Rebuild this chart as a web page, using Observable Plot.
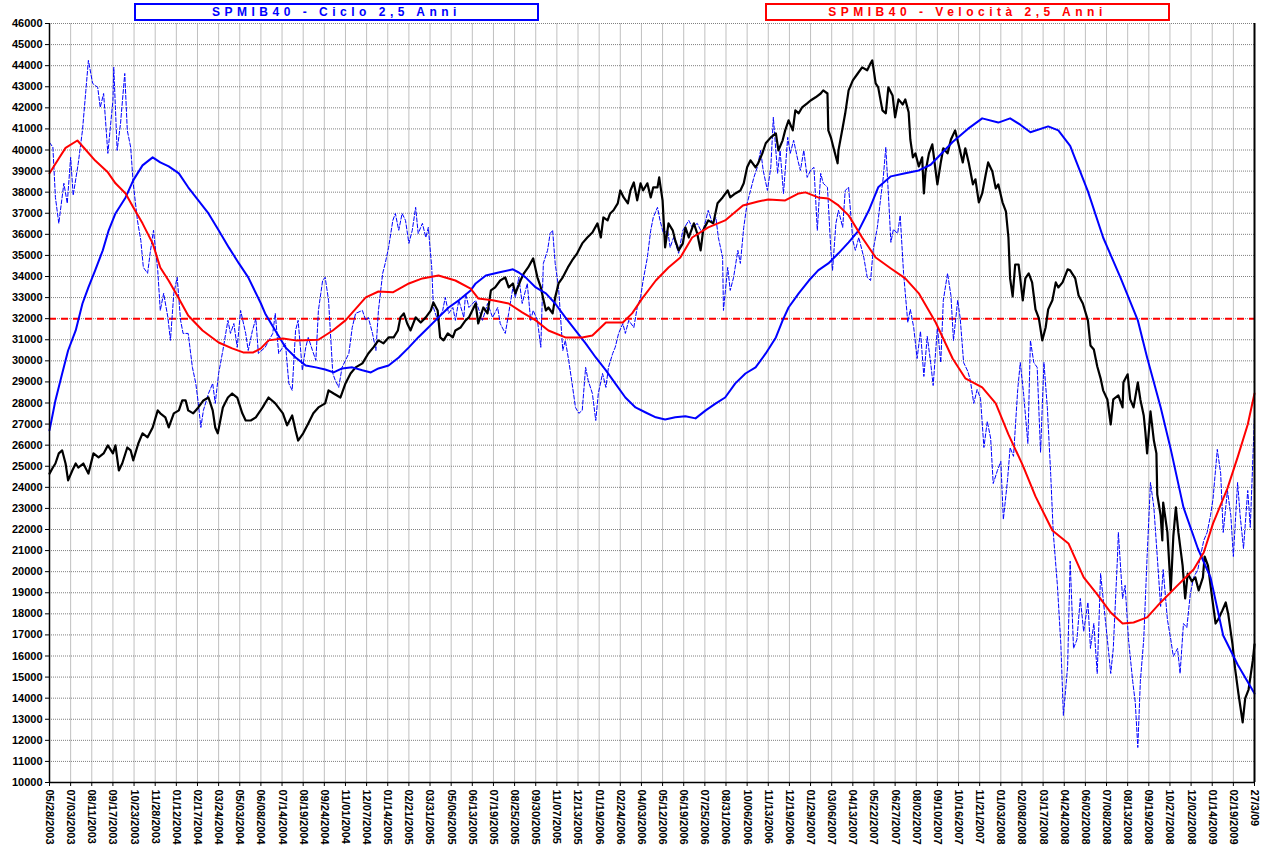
<!DOCTYPE html>
<html>
<head>
<meta charset="utf-8">
<script src="https://cdn.jsdelivr.net/npm/d3@7"></script>
<script src="https://cdn.jsdelivr.net/npm/@observablehq/plot@0.6"></script>
<style>
  body { margin: 0; background: #fff; }
  #wrap { position: relative; width: 1269px; height: 853px; }
  .leg { position: absolute; top: 3px; height: 14px; box-sizing: content-box; text-align: center;
         font-family: "Liberation Sans", Arial, sans-serif; font-weight: bold; font-size: 12px;
         line-height: 14px; letter-spacing: 4.5px; background: #fff; z-index: 2; white-space: pre; }
  #leg1 { left: 134px; width: 401px; border: 2px solid #0000ff; color: #0000ff; }
  #leg2 { left: 765px; width: 401px; border: 2px solid #ff0000; color: #ff0000; }
</style>
</head>
<body>
<div id="wrap">
  <div class="leg" id="leg1">SPMIB40 - Ciclo 2,5 Anni</div>
  <div class="leg" id="leg2">SPMIB40 - Velocità 2,5 Anni</div>
  <div id="chart"></div>
</div>
<script>
// x = trading session number since 05/28/2003 (one label every 25 sessions)
const xLabels = ["05/28/2003","07/03/2003","08/11/2003","09/17/2003","10/23/2003","11/28/2003",
"01/12/2004","02/17/2004","03/24/2004","05/03/2004","06/08/2004","07/14/2004","08/19/2004","09/24/2004","11/01/2004","12/07/2004",
"01/14/2005","02/21/2005","03/31/2005","05/06/2005","06/13/2005","07/19/2005","08/25/2005","09/30/2005","11/07/2005","12/13/2005",
"01/19/2006","02/24/2006","04/03/2006","05/12/2006","06/19/2006","07/25/2006","08/31/2006","10/06/2006","11/13/2006","12/19/2006",
"01/29/2007","03/06/2007","04/13/2007","05/22/2007","06/27/2007","08/02/2007","09/10/2007","10/16/2007","11/21/2007",
"01/03/2008","02/08/2008","03/17/2008","04/24/2008","06/02/2008","07/08/2008","08/13/2008","09/19/2008","10/27/2008","12/02/2008",
"01/14/2009","02/19/2009","27/3/09"];
const tickDays = xLabels.map((_, i) => i * 25);
const yTicks = d3.range(10000, 46001, 1000);
const soglia = [32000];

// SPMIB40 price
const prezzo = [[0,24650],[4,24940],[7,25130],[11,25610],[15,25750],[19,25130],[22,24330],[27,24800],[31,25130],[34,24940],[40,25130],[46,24650],[52,25610],[58,25420],[64,25610],[69,25990],[75,25610],[78,25990],[82,24800],[86,25130],[92,25890],[96,25750],[99,25280],[105,26080],[110,26560],[116,26370],[122,26840],[128,27650],[131,27510],[137,27320],[141,26840],[147,27510],[153,27650],[157,28120],[161,28120],[164,27650],[170,27510],[176,27790],[182,28120],[188,28260],[193,27650],[196,26840],[199,26560],[205,27790],[211,28260],[216,28450],[222,28260],[228,27510],[232,27170],[238,27170],[244,27320],[252,27790],[259,28260],[267,27980],[276,27510],[281,26940],[287,27410],[291,26700],[294,26220],[300,26560],[306,27030],[312,27510],[318,27790],[326,27980],[330,28600],[336,28450],[344,28260],[350,28930],[356,29400],[362,29690],[370,29880],[377,30350],[383,30640],[389,30970],[395,30830],[401,31110],[407,31110],[412,31440],[415,32060],[419,32250],[423,31770],[427,31440],[433,32060],[439,31820],[445,32060],[451,32390],[454,32770],[459,32390],[462,31110],[466,30970],[471,31300],[477,31110],[480,31440],[486,31580],[492,31920],[496,32060],[500,32390],[504,32720],[507,31770],[513,32530],[518,32250],[522,33340],[527,33480],[533,33810],[539,33960],[543,33480],[548,33670],[551,33200],[557,33810],[561,34150],[566,34430],[572,34860],[577,33960],[581,33480],[587,32390],[590,32530],[595,32250],[598,33010],[602,33670],[607,33960],[613,34430],[618,34760],[624,35100],[630,35570],[636,35850],[642,36090],[648,36520],[652,35850],[655,36800],[660,36660],[663,36990],[667,37140],[672,37470],[675,38080],[679,37750],[684,37470],[687,38080],[691,38460],[695,37610],[699,38420],[702,38080],[707,38420],[711,37750],[714,38230],[719,38230],[721,38700],[725,37610],[728,35380],[732,36520],[737,36190],[740,35710],[744,35240],[749,35570],[752,36330],[756,35850],[762,36520],[766,36040],[770,35240],[773,36190],[779,36660],[785,36520],[790,37470],[796,37750],[802,38080],[805,37750],[811,37940],[817,38080],[821,38420],[825,39180],[829,39510],[835,39180],[838,39370],[843,39840],[847,40320],[853,40600],[859,40790],[862,39980],[867,40460],[870,40930],[874,41410],[879,40930],[882,41880],[886,41740],[890,42020],[896,42210],[900,42350],[906,42500],[912,42680],[915,42830],[920,42680],[921,40930],[924,40600],[927,40130],[932,39370],[933,39980],[938,41070],[941,41740],[945,42830],[950,43300],[956,43640],[961,43920],[967,43780],[971,44110],[973,44250],[977,43160],[980,42970],[985,41880],[989,41740],[992,42970],[997,42590],[1000,41550],[1004,42400],[1009,42160],[1012,42400],[1016,41790],[1018,40500],[1021,39650],[1024,39840],[1028,39220],[1032,39650],[1034,37940],[1036,38980],[1040,39840],[1044,40270],[1048,38980],[1050,38370],[1054,39410],[1057,40080],[1062,39840],[1066,40500],[1071,40930],[1075,40270],[1080,39410],[1083,40080],[1087,39410],[1092,38370],[1095,38610],[1099,37520],[1103,37940],[1107,38800],[1110,39410],[1115,38980],[1119,38180],[1122,38370],[1127,37520],[1131,37090],[1134,35850],[1136,33910],[1139,33060],[1142,34570],[1146,34570],[1151,32870],[1154,33910],[1158,34150],[1162,33720],[1166,32440],[1170,32010],[1174,30970],[1178,31580],[1181,32440],[1186,32870],[1190,33720],[1193,33480],[1198,33720],[1204,34340],[1207,34290],[1213,33910],[1217,33100],[1222,32720],[1228,31920],[1231,30730],[1235,30540],[1239,29740],[1243,29170],[1246,28600],[1251,28170],[1255,26980],[1258,28170],[1264,28360],[1269,27790],[1270,28980],[1275,29360],[1278,28170],[1282,27790],[1287,28980],[1290,28170],[1294,27410],[1296,26600],[1298,25610],[1302,27600],[1306,26220],[1309,25610],[1310,23660],[1314,22670],[1316,21480],[1317,23280],[1322,21860],[1326,19110],[1329,21670],[1332,23050],[1335,21860],[1340,20290],[1343,18730],[1346,19910],[1351,19540],[1355,19730],[1359,19110],[1364,19730],[1366,20720],[1370,20290],[1375,18730],[1379,17540],[1382,17730],[1387,18160],[1391,18540],[1394,17970],[1399,16550],[1402,15410],[1406,14220],[1411,12850],[1414,13990],[1418,14410],[1423,15790],[1425,16550]];

// blue dashed series
const oscillazione = [[0,40360],[4,40130],[7,37750],[11,36520],[17,38420],[21,37470],[25,39650],[28,37850],[34,39370],[39,40930],[43,42830],[46,44250],[51,43160],[57,42970],[60,42020],[64,42680],[69,39840],[75,42350],[76,43920],[80,39980],[84,41260],[89,43630],[92,40930],[96,40130],[99,38420],[104,36660],[108,35710],[111,34430],[116,34150],[119,35100],[123,36190],[128,34290],[131,32390],[135,33200],[140,32060],[143,30970],[147,33200],[151,33960],[155,31920],[158,31300],[164,31300],[169,29690],[173,28930],[176,27980],[179,26840],[182,27650],[188,28450],[193,28930],[196,27980],[200,29400],[205,30490],[211,31920],[214,31300],[218,31770],[222,30640],[226,32390],[232,31300],[235,30490],[240,31440],[244,32000],[247,30350],[255,30640],[264,31300],[267,32250],[271,30350],[279,30830],[283,28930],[287,28600],[291,31440],[294,31920],[299,29550],[303,30640],[306,31110],[311,30490],[315,30020],[318,32390],[323,33810],[326,33960],[330,32870],[335,29400],[338,29070],[342,28740],[346,29690],[354,30350],[358,31580],[362,32250],[370,32390],[374,31920],[377,32060],[382,31300],[386,30490],[389,32390],[394,34150],[397,34620],[401,35380],[406,36660],[409,36990],[413,36190],[417,36990],[421,36660],[425,35570],[429,36190],[433,37280],[436,36040],[441,36520],[445,35850],[448,36330],[452,34430],[454,32530],[459,31920],[465,32390],[468,33010],[472,32250],[477,32530],[480,31920],[484,32870],[490,32060],[492,33200],[496,32530],[504,32870],[512,31920],[518,32720],[524,32060],[530,32530],[533,31770],[539,31300],[543,32250],[548,33480],[551,33010],[555,33960],[559,32720],[565,33670],[569,31920],[572,32390],[577,31920],[581,30640],[584,34620],[589,35240],[592,36040],[595,36190],[598,34620],[602,33480],[607,30490],[610,30970],[614,30020],[618,28930],[622,27790],[626,27510],[630,27650],[634,29690],[637,29070],[642,28450],[646,27170],[649,28450],[654,29400],[658,28740],[661,29690],[666,30350],[669,30640],[673,31300],[678,31770],[681,31300],[685,31920],[691,31580],[695,32530],[699,33010],[702,33810],[707,34900],[711,36190],[714,36800],[719,37280],[722,36660],[726,36040],[731,36190],[734,35380],[738,35850],[744,35100],[749,36190],[756,36660],[760,36330],[766,36520],[772,36040],[776,36660],[779,37140],[784,36520],[788,36800],[791,35850],[796,34900],[797,32390],[802,34430],[805,33340],[809,33960],[814,35240],[817,34620],[821,36330],[825,37470],[829,38080],[833,38700],[837,39180],[841,39980],[844,39030],[849,38080],[853,39180],[856,41550],[861,38890],[864,39980],[868,37940],[873,40600],[876,39840],[880,40460],[885,39510],[888,39030],[892,39980],[896,38700],[900,39030],[904,39180],[908,36190],[912,38890],[915,38420],[920,38230],[924,35240],[926,34290],[930,36520],[933,37140],[938,36330],[941,38080],[945,38230],[950,35710],[953,35240],[957,35850],[963,34900],[967,33960],[971,33810],[974,35240],[979,36330],[983,37750],[986,38700],[989,40130],[992,37940],[995,35620],[998,36240],[1003,36040],[1006,36900],[1010,34150],[1015,31820],[1018,32440],[1022,31580],[1026,30110],[1030,31400],[1034,29260],[1038,31160],[1042,29920],[1045,28830],[1050,31580],[1054,29920],[1057,32870],[1062,34150],[1066,33100],[1069,30970],[1074,32870],[1077,32010],[1081,29920],[1086,29500],[1089,29070],[1093,27980],[1097,28640],[1101,28220],[1105,25890],[1109,27130],[1113,26320],[1116,24180],[1121,24800],[1125,25230],[1128,22480],[1133,24370],[1136,25890],[1140,25470],[1145,28640],[1148,29920],[1152,28410],[1157,26080],[1160,30970],[1164,29920],[1168,29690],[1172,25660],[1176,29920],[1180,27790],[1184,24610],[1187,21860],[1192,19300],[1196,16550],[1199,13180],[1204,15500],[1207,20500],[1211,16360],[1215,16780],[1219,18730],[1223,17160],[1228,18540],[1231,16360],[1235,17540],[1239,15170],[1243,19910],[1246,18730],[1251,16780],[1255,15170],[1258,16360],[1263,20720],[1264,21860],[1269,18730],[1272,19350],[1276,16780],[1281,14790],[1284,13800],[1287,11660],[1290,14790],[1294,16780],[1298,20720],[1302,24230],[1306,23050],[1310,20720],[1314,18350],[1317,20100],[1322,17730],[1326,16780],[1329,15980],[1334,16360],[1337,15170],[1341,17540],[1345,17350],[1349,18920],[1353,19730],[1358,20100],[1361,20720],[1365,21480],[1369,21860],[1373,22670],[1376,23470],[1381,25800],[1385,24660],[1388,21860],[1393,23850],[1397,22670],[1400,20720],[1405,24230],[1408,22670],[1412,21100],[1417,23850],[1420,22100],[1425,27410]];

// SPMIB40 - Ciclo 2,5 Anni
const ciclo = [[0,26700],[7,28120],[15,29400],[22,30490],[31,31440],[39,32720],[46,33480],[54,34290],[63,35240],[70,36190],[78,36990],[90,37750],[99,38560],[110,39270],[122,39650],[131,39410],[141,39220],[153,38890],[164,38230],[176,37610],[188,36990],[200,36190],[212,35380],[224,34620],[235,33960],[250,32720],[255,32250],[267,31440],[279,30640],[291,30160],[303,29780],[315,29690],[326,29590],[336,29450],[346,29640],[358,29690],[370,29550],[380,29450],[389,29640],[401,29780],[413,30160],[425,30640],[436,31110],[448,31580],[460,32060],[472,32530],[484,32870],[498,33340],[504,33670],[516,34050],[531,34190],[548,34340],[555,34190],[563,33960],[575,33480],[587,33200],[598,32720],[610,32060],[622,31440],[634,30830],[646,30160],[658,29550],[669,28930],[681,28260],[693,27790],[705,27550],[717,27320],[728,27220],[740,27320],[752,27370],[764,27270],[776,27650],[788,27980],[799,28260],[811,28930],[823,29400],[835,29690],[847,30350],[859,31110],[867,31920],[874,32530],[886,33200],[898,33810],[909,34290],[921,34620],[933,35100],[945,35620],[957,36190],[969,37140],[980,38230],[995,38750],[1012,38900],[1028,39030],[1042,39300],[1068,40380],[1086,41000],[1103,41500],[1122,41300],[1136,41500],[1148,41200],[1160,40840],[1181,41120],[1193,40930],[1207,40200],[1228,38040],[1246,35850],[1267,33900],[1287,31920],[1298,30160],[1314,27800],[1326,25800],[1341,23050],[1358,21100],[1373,19730],[1388,16970],[1405,15600],[1425,14220]];

// SPMIB40 - Velocità 2,5 Anni
const velocita = [[0,38900],[11,39600],[19,40100],[33,40450],[43,40000],[54,39500],[69,38940],[78,38420],[90,37940],[99,37280],[110,36520],[122,35570],[131,34430],[141,33800],[151,33100],[164,32150],[181,31440],[200,30870],[216,30590],[229,30400],[241,30400],[250,30590],[259,30970],[276,31060],[291,30970],[318,31000],[335,31440],[350,31920],[374,33010],[389,33290],[406,33250],[425,33670],[441,33910],[460,34050],[480,33810],[498,33430],[507,32960],[524,32870],[543,32720],[559,32300],[575,31920],[590,31440],[610,31110],[630,31110],[642,31200],[658,31820],[678,31820],[689,32250],[701,32960],[717,33810],[732,34430],[746,34900],[760,35850],[779,36330],[799,36660],[820,37370],[838,37560],[850,37650],[870,37610],[886,37940],[894,37990],[909,37750],[921,37700],[933,37370],[945,36900],[961,35850],[977,34900],[995,34380],[1012,33910],[1028,33200],[1048,31820],[1068,30110],[1083,29170],[1103,28740],[1119,27980],[1134,26510],[1151,25040],[1166,23570],[1186,21950],[1205,21340],[1223,19730],[1239,18920],[1255,18060],[1269,17540],[1282,17590],[1298,17830],[1314,18540],[1334,19350],[1353,20100],[1365,20910],[1376,22290],[1393,23950],[1405,25420],[1417,26980],[1425,28450]];

const X = d => d[0], Y = d => d[1];
const lastDay = tickDays[tickDays.length - 1];

const chart = Plot.plot({
  width: 1269,
  height: 853,
  marginLeft: 49,
  marginRight: 15,
  marginTop: 23,
  marginBottom: 71,
  x: {domain: [0, lastDay]},
  y: {domain: [10000, 46000]},
  style: {fontFamily: "'Liberation Sans', Arial, sans-serif", fontSize: "11px", fontWeight: "bold", color: "#000", background: "#fff"},
  marks: [
    Plot.gridX(tickDays, {stroke: "#c0c0c0", strokeOpacity: 1}),
    Plot.gridY(yTicks, {stroke: "#808080", strokeOpacity: 1, strokeDasharray: "1,1"}),
    Plot.ruleY(soglia, {stroke: "#ff0000", strokeWidth: 2, strokeDasharray: "7,5"}),
    Plot.line(oscillazione, {x: X, y: Y, stroke: "#0000ff", strokeWidth: 1, strokeDasharray: "4,2"}),
    Plot.line(prezzo, {x: X, y: Y, stroke: "#000", strokeWidth: 2.2}),
    Plot.line(ciclo, {x: X, y: Y, stroke: "#0000ff", strokeWidth: 2}),
    Plot.line(velocita, {x: X, y: Y, stroke: "#ff0000", strokeWidth: 2}),
    Plot.ruleX([0], {stroke: "#000", strokeWidth: 1.5}),
    Plot.ruleX([lastDay], {stroke: "#000", strokeWidth: 2}),
    Plot.ruleY([10000], {stroke: "#000", strokeWidth: 1.5}),
    Plot.axisY(yTicks, {anchor: "left", tickSize: 4, tickPadding: 3, tickFormat: d3.format("d"), label: null}),
    Plot.axisX(tickDays, {anchor: "bottom", tickSize: 4, tickPadding: 3, tickRotate: 90, tickFormat: d => xLabels[Math.round(d / 25)], label: null})
  ]
});
document.getElementById("chart").appendChild(chart);
</script>
</body>
</html>
